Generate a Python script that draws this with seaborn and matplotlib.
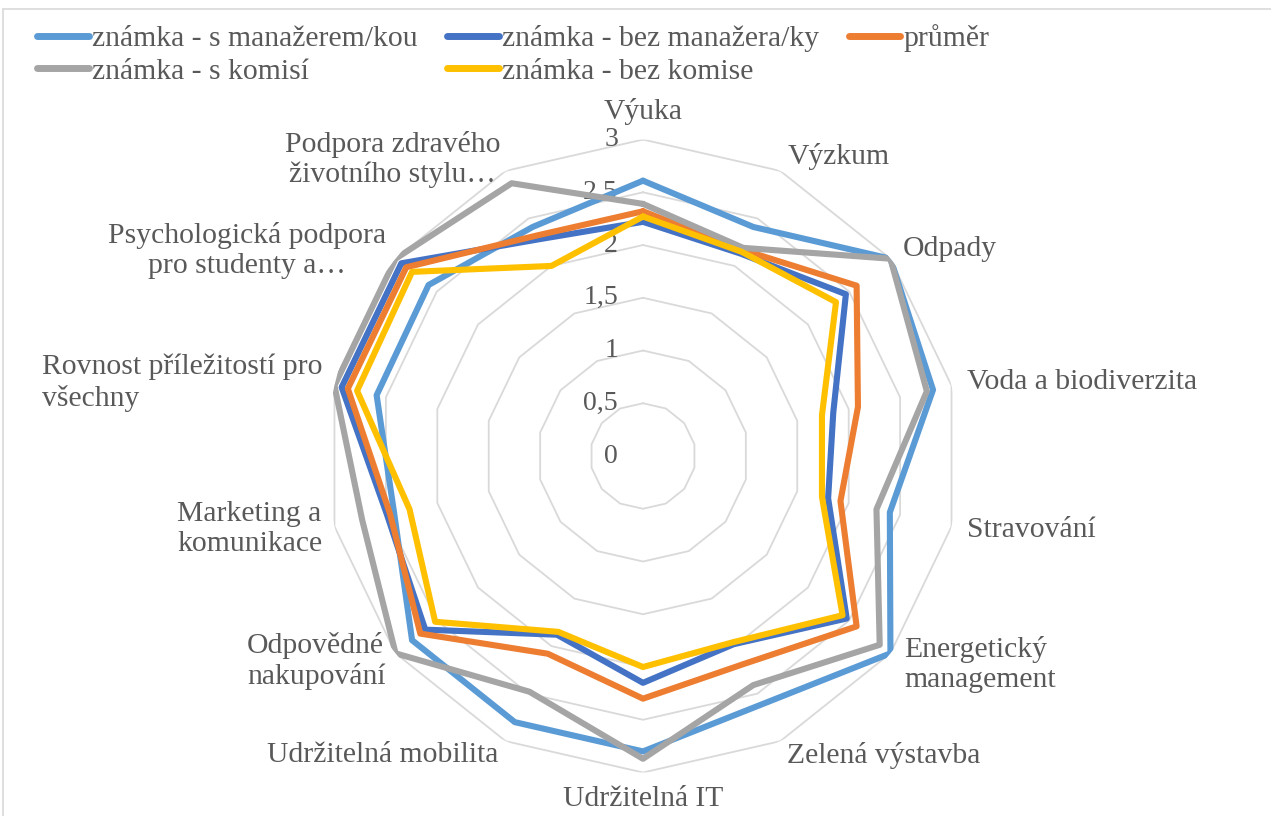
import numpy as np
import pandas as pd
import seaborn as sns
import matplotlib.pyplot as plt
from matplotlib.lines import Line2D

categories = ["Výuka", "Výzkum", "Odpady", "Voda a biodiverzita", "Stravování",
              "Energetický\nmanagement", "Zelená výstavba", "Udržitelná IT",
              "Udržitelná mobilita", "Odpovědné\nnakupování", "Marketing a\nkomunikace",
              "Rovnost příležitostí pro\nvšechny", "Psychologická podpora\npro studenty a…",
              "Podpora zdravého\nživotního stylu…"]

s_manazerem = [2.61, 2.41, 3.0, 2.82, 2.4, 3.0, 2.61, 2.8, 2.8, 2.8, 2.42, 2.59, 2.6, 2.41]
bez_manazera = [2.22, 2.13, 2.46, 1.85, 1.8, 2.47, 1.98, 2.15, 1.88, 2.64, 2.49, 2.93, 2.93, 2.28]
prumer = [2.32, 2.17, 2.59, 2.09, 1.92, 2.59, 2.19, 2.30, 2.08, 2.7, 2.46, 2.87, 2.87, 2.32]
s_komisi = [2.39, 2.19, 3.0, 2.76, 2.27, 2.87, 2.41, 2.87, 2.48, 3.0, 2.73, 3.0, 3.0, 2.87]
bez_komise = [2.27, 2.15, 2.34, 1.74, 1.74, 2.42, 1.96, 2.0, 1.85, 2.52, 2.27, 2.78, 2.8, 2.0]

series_names = ["známka - s manažerem/kou", "známka - bez manažera/ky", "průměr",
                "známka - s komisí", "známka - bez komise"]
series_values = [s_manazerem, bez_manazera, prumer, s_komisi, bez_komise]
colors = ["#5B9BD5", "#4472C4", "#ED7D31", "#A5A5A5", "#FFC000"]
ticks = [0, 0.5, 1, 1.5, 2, 2.5, 3]
tick_labels = ["0", "0,5", "1", "1,5", "2", "2,5", "3"]

sns.set_theme(style="white")
plt.rcParams['font.family'] = ['Liberation Serif', 'DejaVu Serif']
txt = "#595959"
fs = 21.3

n = len(categories)
theta = np.linspace(0, 2 * np.pi, n, endpoint=False)
theta_c = np.append(theta, 2 * np.pi)

rows = []
for name, vals in zip(series_names, series_values):
    for t, v in zip(theta_c, vals + vals[:1]):
        rows.append({"theta": t, "value": v, "serie": name})
df = pd.DataFrame(rows)

fig = plt.figure(figsize=(12.71, 8.16), dpi=100)
ax = fig.add_axes([0.2569, 0.0533, 0.498, 0.7757], projection='polar')
ax.set_theta_zero_location('N')
ax.set_theta_direction(-1)

# polygon grid
for v in ticks[1:]:
    ax.plot(theta_c, [v] * len(theta_c), color="#d9d9d9", lw=1.3, zorder=1)

sns.lineplot(data=df, x="theta", y="value", hue="serie", hue_order=series_names,
             palette=colors, sort=False, estimator=None, lw=4.4, ax=ax, legend=False, zorder=3)

ax.set_ylim(0, 3)
ax.grid(False)
ax.set_xticks([])
ax.set_yticks([])
ax.set_xlabel("")
ax.set_ylabel("")
ax.spines['polar'].set_visible(False)
ax.patch.set_alpha(0)

for v, lab in zip(ticks, tick_labels):
    ax.annotate(lab, xy=(0, v), xytext=(-18, 0), textcoords='offset points',
                ha='right', va='center', fontsize=20, color=txt, zorder=2)

label_style = [
    (3.14, 'center', 'bottom', 'center'),
    (3.15, 'left', 'center', 'left'),
    (3.15, 'left', 'center', 'left'),
    (3.15, 'left', 'center', 'left'),
    (3.15, 'left', 'center', 'left'),
    (3.17, 'left', 'center', 'left'),
    (3.15, 'left', 'center', 'left'),
    (3.13, 'center', 'top', 'center'),
    (3.15, 'right', 'center', 'left'),
    (3.12, 'right', 'center', 'left'),
    (3.12, 'right', 'center', 'left'),
    (3.12, 'right', 'center', 'left'),
    (3.12, 'right', 'center', 'center'),
    (3.12, 'right', 'center', 'center'),
]
for t, lab, (r, ha, va, ma) in zip(theta, categories, label_style):
    ax.text(t, r, lab, ha=ha, va=va, multialignment=ma, fontsize=fs,
            color=txt, clip_on=False, linespacing=1.2)

# legend (column-wise fill)
handles = {name: Line2D([], [], color=c, lw=5) for name, c in zip(series_names, colors)}
order = ["známka - s manažerem/kou", "známka - s komisí", "známka - bez manažera/ky",
         "známka - bez komise", "průměr"]
leg = fig.legend([handles[o] for o in order], order, loc='upper left',
                 bbox_to_anchor=(0.02, 0.985), ncol=3, frameon=False, fontsize=fs,
                 handlelength=1.75, handletextpad=0.1, columnspacing=1.0,
                 labelspacing=0.2, borderaxespad=0)
for t in leg.get_texts():
    t.set_color(txt)

# chart border
fig.add_artist(Line2D([3 / 1271, 1.0], [1 - 9 / 816, 1 - 9 / 816], color="#d9d9d9", lw=1.2))
fig.add_artist(Line2D([3 / 1271, 3 / 1271], [0, 1 - 9 / 816], color="#d9d9d9", lw=1.2))

fig.savefig("out.png", dpi=100)
